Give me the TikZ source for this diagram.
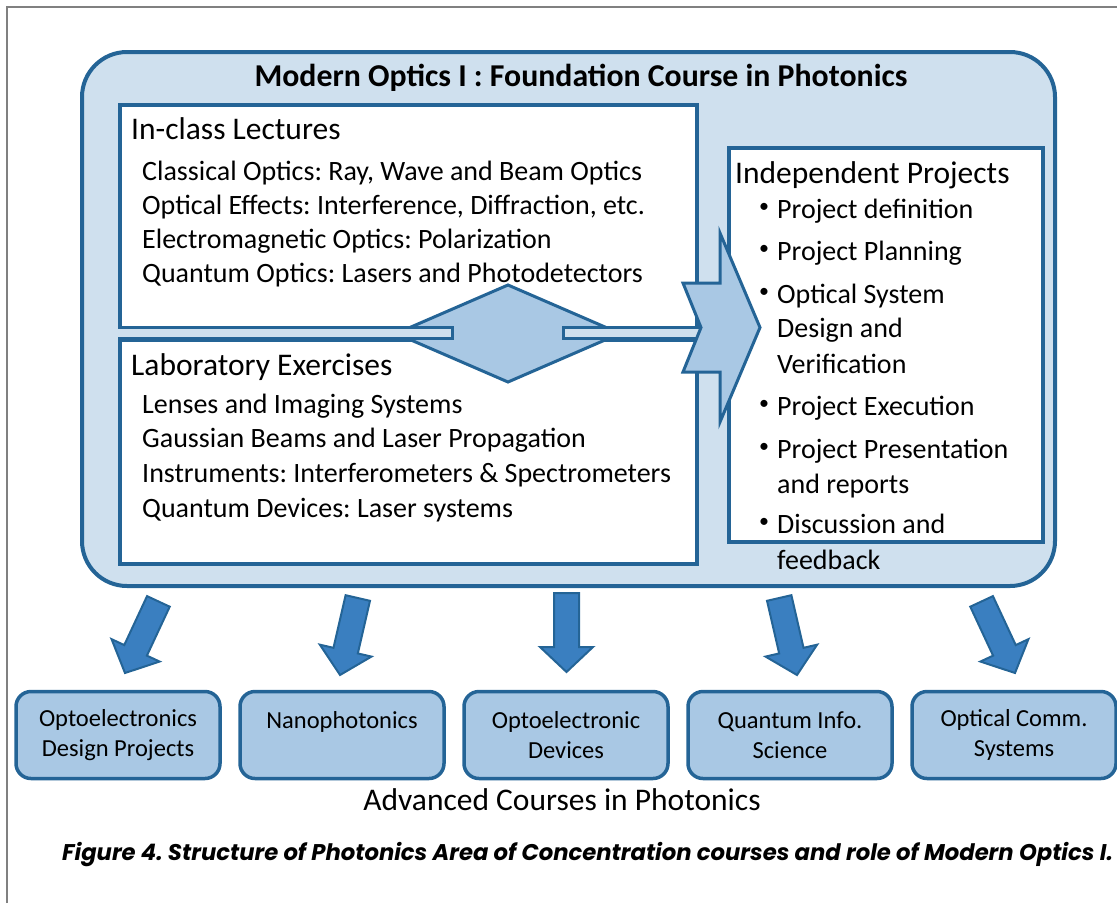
\documentclass[tikz,border=0pt]{standalone}
\usepackage{fontspec}
\setmainfont{Carlito}
\newfontfamily\captionfont{Poppins}
\usetikzlibrary{positioning}

\definecolor{optborder}{HTML}{246496}
\definecolor{optback}{HTML}{CFE0EE}
\definecolor{optfill}{HTML}{A9C8E4}
\definecolor{optarrow}{HTML}{3A7FC0}

\tikzset{
  panel/.style={draw=optborder, line width=3.5pt, fill=white, anchor=north west, inner sep=0pt},
  coursebox/.style={draw=optborder, line width=3.5pt, fill=optfill, rounded corners=15pt,
    minimum width=204pt, minimum height=87pt, align=center, inner sep=0pt,
    font=\fontsize{24.5}{30}\selectfont},
  itemtext/.style={anchor=base west, inner sep=0pt, font=\fontsize{28}{34}\selectfont},
  headtext/.style={anchor=base west, inner sep=0pt, font=\fontsize{31.5}{38}\selectfont},
  bar/.style={draw=optborder, line width=3pt, fill=optback},
  blockarrow/.style={draw=optborder, line width=3pt, fill=optfill, line join=miter},
  downarrow/.style={draw=optborder, line width=2pt, fill=optarrow, line join=miter},
}
\frenchspacing

\begin{document}
\begin{tikzpicture}[x=1pt, y=-1pt]
        \useasboundingbox (0,0) rectangle (1117,903);
        \draw[gray, line width=1.5pt] (7,903) -- (7,7) -- (1117,7);

        % foundation course
        \node[draw=optborder, fill=optback, line width=4pt, rounded corners=45pt,
              minimum width=973pt, minimum height=534pt, anchor=north west] (course) at (80,50) {};
        \node[anchor=base, inner sep=0pt, font=\fontsize{31.8}{38}\selectfont\bfseries] (title) at (581,86)
              {Modern Optics I : Foundation Course in Photonics};

        \node[panel, minimum width=577pt, minimum height=224pt] (lectures) at (118,103) {};
        \node[panel, minimum width=577pt, minimum height=224pt] (lab) at (118,338) {};
        \node[panel, minimum width=314pt, minimum height=394pt] (projects) at (727,146) {};

        % link between lectures and lab
        \draw[blockarrow] (396,333.5) -- (508,285) -- (620,333.5) -- (508,382) -- cycle;
        \draw[bar] (118,327) -- (452,327) -- (452,338) -- (118,338);
        \draw[bar] (705,327) -- (563,327) -- (563,338) -- (705,338);
        \draw[blockarrow] (683,283) -- (720,283) -- (720,233) -- (760,327.5) -- (720,422)
              -- (720,372) -- (683,372) -- (701,327.5) -- cycle;

        % lectures
        \node[headtext] (lechead) at (131,139) {In-class Lectures};
        \foreach \txt [count=\i] in {{Classical Optics: Ray, Wave and Beam Optics},
                                     {Optical Effects: Interference, Diffraction, etc.},
                                     {Electromagnetic Optics: Polarization},
                                     {Quantum Optics: Lasers and Photodetectors}}
            \node[itemtext] (lec\i) at ({142},{146+34*\i}) {\txt};

        % lab
        \node[headtext] (labhead) at (131,375) {Laboratory Exercises};
        \foreach \txt [count=\i] in {{Lenses and Imaging Systems},
                                     {Gaussian Beams and Laser Propagation},
                                     {Instruments: Interferometers \& Spectrometers},
                                     {Quantum Devices: Laser systems}}
            \node[itemtext] (lab\i) at ({142},{378.3+34.7*\i}) {\txt};

        % projects
        \node[headtext] (projhead) at (735,183) {Independent Projects};
        \foreach \y/\txt [count=\i] in {218/Project definition, 260/Project Planning,
                                        303/Optical System, 337/Design and, 373/Verification,
                                        415/Project Execution, 458/Project Presentation,
                                        493/and reports, 533/Discussion and, 569/feedback}
            \node[itemtext] (proj\i) at (777,\y) {\txt};
        \foreach \y [count=\i] in {218,260,303,415,458,533}
            \node[itemtext, font=\fontsize{20}{20}\selectfont] (dot\i) at (759,\y) {\raisebox{6pt}{\textbullet}};

        % advanced courses
        \foreach \i/\cx/\txt in {1/118/{Optoelectronics\\Design Projects},
                                 2/342/{Nanophotonics\\\mbox{}},
                                 3/566/{Optoelectronic\\Devices},
                                 4/790/{Quantum Info.\\Science},
                                 5/1014/{Optical Comm.\\Systems}}
            \node[coursebox] (adv\i) at (\cx,735) {\txt};
        \foreach \tx/\ty/\ang in {158.4/601.4/-25, 357.8/598/-13, 566.5/593/0,
                                  779.2/598/13, 981.6/601.4/25}
            \draw[downarrow, shift={(\tx,\ty)}, rotate=\ang]
                (-12.5,0) -- (12.5,0) -- (12.5,54) -- (26.5,54) -- (0,79) -- (-26.5,54) -- (-12.5,54) -- cycle;
        \node[anchor=base, inner sep=0pt, font=\fontsize{31.5}{38}\selectfont] (advlabel) at (562,810)
              {Advanced Courses in Photonics};

        \node[anchor=base west, inner sep=0pt, font=\captionfont\fontsize{22.7}{28}\selectfont\bfseries\itshape] (caption) at (62,860)
              {Figure 4. Structure of Photonics Area of Concentration courses and role of Modern Optics I.};
\end{tikzpicture}
\end{document}
